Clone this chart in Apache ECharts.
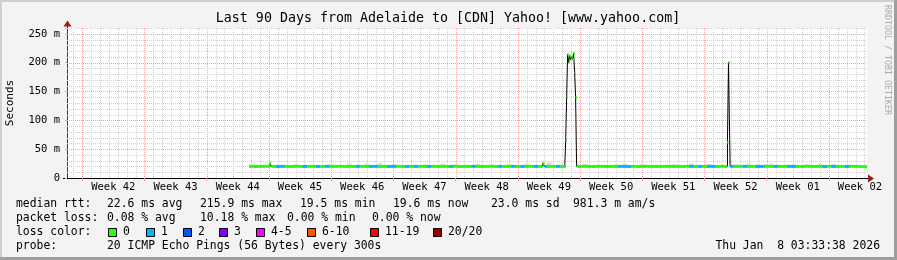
<!DOCTYPE html>
<html><head><meta charset="utf-8">
<script src="https://cdn.jsdelivr.net/npm/echarts@6/dist/echarts.min.js"></script>
<style>html,body{margin:0;padding:0;background:#f3f3f3}#c{width:897px;height:260px}</style>
</head><body><div id="c"></div><script>
// ---------- data ----------
const chartTitle = 'Last 90 Days from Adelaide to [CDN] Yahoo! [www.yahoo.com]';
const weekLabels = ['Week 42','Week 43','Week 44','Week 45','Week 46','Week 47','Week 48','Week 49','Week 50','Week 51','Week 52','Week 01','Week 02'];
const weekStarts = [1.71, 8.71, 15.71, 22.71, 29.71, 36.71, 43.71, 50.71, 57.71, 64.71, 71.71, 78.71, 85.71]; // days from graph start
const yTicks = [0, 50, 100, 150, 200, 250];

// sample end times (days from graph start)
const sampleDays = [
  20.5, 21, 21.5, 22, 22.5, 22.85, 22.97, 23.5, 24, 24.5,
  25, 25.5, 26, 26.5, 27, 27.5, 28, 28.5, 29, 29.5,
  30, 30.5, 31, 31.5, 32, 32.5, 33, 33.5, 34, 34.5,
  35, 35.5, 36, 36.5, 37, 37.5, 38, 38.5, 39, 39.5,
  40, 40.5, 41, 41.5, 42, 42.5, 43, 43.5, 44, 44.5,
  45, 45.5, 46, 46.5, 47, 47.5, 48, 48.5, 49, 49.5,
  50, 50.5, 51, 51.5, 52, 52.5, 53, 53.5, 53.72, 54,
  54.5, 55, 55.5, 56, 56.1, 56.21, 56.32, 56.43, 56.54, 56.66,
  56.77, 56.88, 56.99, 57.11, 57.22, 57.33, 57.5, 58, 58.5, 59,
  59.5, 60, 60.5, 61, 61.5, 62, 62.5, 63, 63.5, 64,
  64.5, 65, 65.5, 66, 66.5, 67, 67.5, 68, 68.5, 69,
  69.5, 70, 70.5, 71, 71.5, 72, 72.5, 73, 73.5, 74,
  74.3, 74.42, 74.6, 75, 75.5, 76, 76.5, 77, 77.5, 78,
  78.5, 79, 79.5, 80, 80.5, 81, 81.5, 82, 82.5, 83,
  83.5, 84, 84.5, 85, 85.5, 86, 86.5, 87, 87.5, 88,
  88.5, 89, 89.5, 90
];
// median rtt (ms)
const medianMs = [
  20.0, 20.2, 20.0, 20.1, 20.3, 20.2, 25.0, 20.1, 20.0, 20.2,
  20.1, 20.0, 20.2, 20.1, 20.0, 20.2, 20.1, 20.0, 20.1, 20.2,
  20.0, 20.1, 20.2, 20.0, 20.1, 20.0, 20.2, 20.1, 20.0, 20.1,
  20.2, 20.0, 20.1, 20.0, 20.1, 20.2, 20.0, 20.1, 20.0, 20.2,
  20.1, 20.0, 20.1, 20.2, 20.0, 20.1, 20.0, 20.1, 20.2, 20.0,
  20.1, 20.0, 20.2, 20.1, 20.0, 20.1, 20.2, 20.0, 20.1, 20.0,
  20.1, 20.2, 20.0, 20.1, 20.0, 20.2, 20.1, 20.0, 25.0, 20.1,
  20.0, 20.1, 20.2, 20.0, 20.1, 65.0, 140.0, 214.0, 200.0, 212.0,
  205.0, 210.0, 206.0, 216.0, 183.0, 140.0, 20.1, 20.0, 20.2, 20.1,
  20.0, 20.1, 20.2, 20.0, 20.1, 20.0, 20.1, 20.2, 20.0, 20.1,
  20.0, 20.1, 20.2, 20.0, 20.1, 20.0, 20.2, 20.1, 20.0, 20.1,
  20.0, 20.2, 20.1, 20.0, 20.1, 20.0, 20.2, 20.1, 20.0, 20.1,
  20.0, 62.0, 200.0, 20.1, 20.0, 20.1, 20.2, 20.0, 20.1, 20.0,
  20.1, 20.2, 20.0, 20.1, 20.0, 20.1, 20.2, 20.0, 20.1, 20.0,
  20.2, 20.1, 20.0, 20.1, 20.0, 20.2, 20.1, 20.0, 20.1, 20.0,
  20.2, 20.1, 20.0, 19.6
];
// lost pings out of 20
const lostPings = [
  0, 0, 0, 0, 0, 0, 0, 0, 1, 1,
  0, 0, 0, 0, 1, 0, 0, 1, 0, 1,
  0, 0, 0, 0, 0, 0, 1, 0, 0, 1,
  1, 0, 0, 1, 1, 0, 0, 1, 0, 1,
  0, 0, 1, 0, 0, 0, 0, 1, 0, 0,
  0, 0, 1, 0, 0, 0, 0, 0, 1, 0,
  0, 1, 0, 1, 0, 0, 1, 0, 0, 1,
  0, 0, 1, 0, 0, 1, 0, 0, 0, 0,
  0, 0, 0, 0, 0, 0, 0, 0, 0, 0,
  0, 0, 0, 0, 0, 0, 1, 1, 1, 0,
  0, 0, 0, 0, 0, 0, 0, 0, 0, 0,
  0, 0, 1, 0, 1, 0, 1, 1, 0, 0,
  0, 0, 0, 1, 0, 0, 1, 0, 0, 1,
  1, 0, 0, 1, 0, 0, 1, 1, 0, 0,
  0, 0, 0, 0, 1, 0, 1, 0, 0, 1,
  0, 0, 0, 0
];
// highest ping of the sample (ms), null where it stays inside the median band
const smokeMaxMs = [
  null, null, null, null, null, null, null, null, null, null,
  null, null, 24, null, null, null, 23, null, null, null,
  24, null, null, null, 25, null, null, null, 25, null,
  null, 26, null, null, 24, null, null, null, 23, null,
  null, 24, null, null, null, 25, null, null, 24, null,
  null, null, null, 25, null, null, 23, null, null, null,
  24, null, null, null, 25, null, null, null, null, null,
  27, null, null, null, null, null, null, null, null, null,
  null, null, null, null, null, null, null, null, 24, null,
  null, 23, null, null, null, 24, null, 25, null, null,
  null, 24, null, null, 23, null, null, null, 24, null,
  null, null, 25, null, null, null, 24, null, null, null,
  null, null, null, null, 24, null, null, 25, null, 24,
  null, 24, 25, null, 23, null, null, 24, null, null,
  24, null, null, 25, null, null, 24, null, null, null,
  23, null, null, null
];
const lossColors = ['#26ff00', '#00b8ff', '#0059ff', '#7e00ff', '#ff00ff', '#ff5500', '#ff0000', '#a10000'];
const lossLabels = ['0', '1', '2', '3', '4-5', '6-10', '11-19', '20/20'];
const rttStats = ['median rtt:', '22.6 ms avg', '215.9 ms max', '19.5 ms min', '19.6 ms now', '23.0 ms sd', '981.3 m am/s'];
const lossStats = ['packet loss:', '0.08 % avg', '10.18 % max', '0.00 % min', '0.00 % now'];
const probeText = ['probe:', '20 ICMP Echo Pings (56 Bytes) every 300s'];
const stampText = 'Thu Jan  8 03:33:38 2026';
const watermark = 'RRDTOOL / TOBI OETIKER';

// ---------- layout / style ----------
const FONT = "'DejaVu Sans Mono', monospace";
const G = { left: 67, top: 28, width: 800, height: 150 };
const PINK = '#f2a2a2', GRAY = '#d0d0d0', ARROW = '#9b1b1b';
function lossIndex(n) { if (n <= 3) return n; if (n <= 5) return 4; if (n <= 10) return 5; if (n <= 19) return 6; return 7; }

// grid line items: [orientation 0=vertical/1=horizontal, value, major]
const gridItems = [];
for (let k = 0; k < 90; k++) {
  const d = weekStarts[0] - 1 + k;
  if (d >= 90) break;
  gridItems.push([0, d, (k - 1) % 7 === 0 ? 1 : 0]);
}
for (let v = 10; v <= 260; v += 10) gridItems.push([1, v, v % 50 === 0 ? 1 : 0]);

const lineData = sampleDays.map((t, i) => [t, medianMs[i]]);
const bandData = [], smokeData = [];
for (let i = 1; i < sampleDays.length; i++) {
  bandData.push([sampleDays[i - 1], sampleDays[i], medianMs[i], lostPings[i]]);
  if (smokeMaxMs[i] != null) smokeData.push([sampleDays[i - 1], sampleDays[i], medianMs[i], smokeMaxMs[i]]);
}

const chart = echarts.init(document.getElementById('c'), null, { renderer: 'canvas' });

const graphics = [];
// border
graphics.push({ type: 'rect', shape: { x: 0, y: 0, width: 897, height: 2 }, style: { fill: '#cfcfcf' }, silent: true });
graphics.push({ type: 'rect', shape: { x: 0, y: 0, width: 2, height: 260 }, style: { fill: '#cfcfcf' }, silent: true });
graphics.push({ type: 'rect', shape: { x: 894, y: 0, width: 3, height: 260 }, style: { fill: '#9e9e9e' }, silent: true });
graphics.push({ type: 'rect', shape: { x: 0, y: 257, width: 897, height: 3 }, style: { fill: '#9e9e9e' }, silent: true });
// title
graphics.push({ type: 'text', style: { text: chartTitle, x: 448, y: 19, align: 'center', verticalAlign: 'middle', textAlign: 'center', textVerticalAlign: 'middle', fontFamily: FONT, fontSize: 13.3, fill: '#000' } });
// watermark
graphics.push({ type: 'text', x: 887, y: 5, rotation: -Math.PI / 2, style: { text: watermark, x: 0, y: 0, align: 'left', verticalAlign: 'middle', textAlign: 'left', textVerticalAlign: 'middle', fontFamily: FONT, fontSize: 8.3, fill: '#ababab' } });
// axis extensions and arrows
graphics.push({ type: 'line', shape: { x1: 63, y1: 178.5, x2: 67, y2: 178.5 }, style: { stroke: '#000', lineWidth: 1 } });
graphics.push({ type: 'line', shape: { x1: 867, y1: 178.5, x2: 869, y2: 178.5 }, style: { stroke: '#000', lineWidth: 1 } });
graphics.push({ type: 'line', shape: { x1: 67.5, y1: 24, x2: 67.5, y2: 28 }, style: { stroke: '#404040', lineWidth: 1 } });
graphics.push({ type: 'polygon', shape: { points: [[868, 174.5], [874, 178.5], [868, 182.5]] }, style: { fill: ARROW } });
graphics.push({ type: 'polygon', shape: { points: [[63.5, 26.5], [67.5, 20.5], [71.5, 26.5]] }, style: { fill: ARROW } });

function legendText(x, y, text) {
  return { type: 'text', style: { text, x, y, align: 'left', verticalAlign: 'middle', textAlign: 'left', textVerticalAlign: 'middle', fontFamily: FONT, fontSize: 11.4, fill: '#000' } };
}
const rttX = [16, 107, 200, 300, 393, 491, 573];
rttStats.forEach((s, i) => graphics.push(legendText(rttX[i], 204.5, s)));
const lossX = [16, 107, 200, 287, 372];
lossStats.forEach((s, i) => graphics.push(legendText(lossX[i], 218.5, s)));
graphics.push(legendText(16, 232.5, 'loss color:'));
const sqX = [108, 146, 183, 219, 256, 307, 370, 433];
lossLabels.forEach((s, i) => {
  graphics.push({ type: 'rect', shape: { x: sqX[i] + 0.5, y: 228.5, width: 8, height: 8 }, style: { fill: lossColors[i], stroke: '#000', lineWidth: 1 } });
  graphics.push(legendText(sqX[i] + 15, 232.5, s));
});
graphics.push(legendText(16, 246.5, probeText[0]));
graphics.push(legendText(107, 246.5, probeText[1]));
graphics.push({ type: 'text', style: { text: stampText, x: 880, y: 246.5, align: 'right', verticalAlign: 'middle', textAlign: 'right', textVerticalAlign: 'middle', fontFamily: FONT, fontSize: 11.4, fill: '#000' } });

chart.setOption({
  animation: false,
  backgroundColor: '#f3f3f3',
  grid: { left: G.left, top: G.top, width: G.width, height: G.height, show: true, backgroundColor: '#ffffff', borderWidth: 0, containLabel: false, outerBoundsMode: 'none' },
  xAxis: {
    type: 'value', min: 0, max: 90,
    axisLine: { show: true, lineStyle: { color: '#000', width: 1 } },
    axisTick: { show: true, customValues: weekStarts, length: 3, lineStyle: { color: PINK } },
    axisLabel: {
      show: true, customValues: weekStarts.map(w => w + 3.5), margin: 4,
      formatter: v => weekLabels[Math.round((v - weekStarts[0] - 3.5) / 7)] || '',
      fontFamily: FONT, fontSize: 10.5, color: '#000'
    },
    splitLine: { show: false }
  },
  yAxis: {
    type: 'value', min: 0, max: 260, interval: 50,
    name: 'Seconds', nameLocation: 'middle', nameGap: 51, nameRotate: 90,
    nameTextStyle: { fontFamily: FONT, fontSize: 11, color: '#000' },
    axisLine: { show: true, lineStyle: { color: '#404040', width: 1 } },
    axisTick: { show: true, length: 2, lineStyle: { color: PINK } },
    axisLabel: {
      margin: 7, fontFamily: FONT, fontSize: 10.5, color: '#000',
      formatter: v => (yTicks.indexOf(v) < 0 ? '' : (v === 0 ? '0' : v + ' m'))
    },
    splitLine: { show: false }
  },
  graphic: graphics,
  series: [
    {
      type: 'custom', name: 'grid', z: 1, silent: true, clip: true,
      data: gridItems,
      renderItem(params, api) {
        const cs = params.coordSys;
        const kind = api.value(0), v = api.value(1), major = api.value(2);
        let shape;
        if (kind === 0) {
          const x = Math.round(api.coord([v, 0])[0]) + 0.5;
          shape = { x1: x, y1: cs.y, x2: x, y2: cs.y + cs.height };
        } else {
          const y = Math.round(api.coord([0, v])[1]) + 0.5;
          shape = { x1: cs.x, y1: y, x2: cs.x + cs.width, y2: y };
        }
        return { type: 'line', shape, style: { stroke: major ? PINK : GRAY, lineWidth: 1, lineDash: [1, 1] } };
      }
    },
    {
      type: 'custom', name: 'smoke', z: 2, silent: true,
      data: smokeData,
      renderItem(params, api) {
        const a = api.coord([api.value(0), api.value(3)]);
        const b = api.coord([api.value(1), api.value(2)]);
        return { type: 'rect', shape: { x: a[0], y: a[1], width: Math.max(b[0] - a[0], 1), height: b[1] - a[1] }, style: { fill: '#dadada' } };
      }
    },
    {
      type: 'line', name: 'median', z: 3, silent: true,
      data: lineData, step: 'start', showSymbol: false, symbol: 'none',
      lineStyle: { color: '#000', width: 1 }
    },
    {
      type: 'custom', name: 'loss', z: 4, silent: true,
      data: bandData,
      renderItem(params, api) {
        const a = api.coord([api.value(0), api.value(2)]);
        const b = api.coord([api.value(1), api.value(2)]);
        return { type: 'rect', shape: { x: a[0], y: a[1] - 1.5, width: Math.max(b[0] - a[0], 1), height: 3 }, style: { fill: lossColors[lossIndex(api.value(3))] } };
      }
    }
  ]
});
</script></body></html>
